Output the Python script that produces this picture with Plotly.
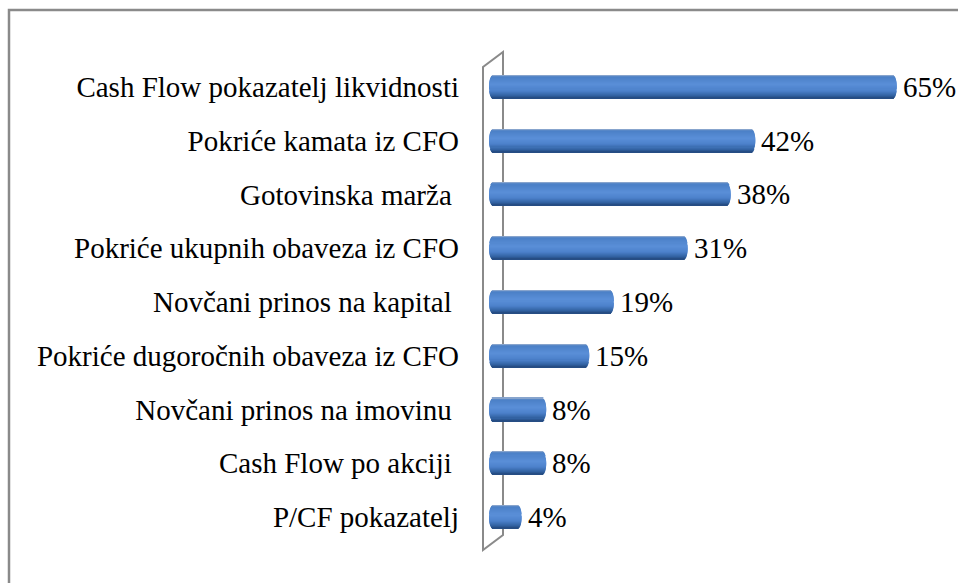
import math
import plotly.graph_objects as go

# Cash-flow indicators and the share of respondents using each one (%)
categories = [
    "Cash Flow pokazatelj likvidnosti",
    "Pokriće kamata iz CFO",
    "Gotovinska marža\u00a0",
    "Pokriće ukupnih obaveza iz CFO",
    "Novčani prinos na kapital\u00a0",
    "Pokriće dugoročnih obaveza iz CFO",
    "Novčani prinos na imovinu\u00a0",
    "Cash Flow po akciji\u00a0",
    "P/CF pokazatelj",
]
values = [65, 42, 38, 31, 19, 15, 8, 8, 4]
value_labels = [f"{v}%" for v in values]

W_PX, H_PX = 958, 583
L, R, T, B = 480, 0, 60, 39
X0_PX = 493            # pixel where 0 % sits
PX_PER_UNIT = 6.15
X_MIN = (L - X0_PX) / PX_PER_UNIT
X_MAX = (W_PX - R - X0_PX) / PX_PER_UNIT
PLOT_W = W_PX - L - R
PLOT_H = H_PX - T - B

FONT = "Liberation Serif"
FSIZE = 29

def px(x):
    return (x - L) / PLOT_W

def py(y):
    return (H_PX - B - y) / PLOT_H

def lerp_color(stops, t):
    for (t0, c0), (t1, c1) in zip(stops, stops[1:]):
        if t0 <= t <= t1:
            k = 0 if t1 == t0 else (t - t0) / (t1 - t0)
            a = [int(c0[i:i + 2], 16) for i in (1, 3, 5)]
            b = [int(c1[i:i + 2], 16) for i in (1, 3, 5)]
            r, g, bl = (round(a[j] + (b[j] - a[j]) * k) for j in range(3))
            return f"rgb({r},{g},{bl})"
    return stops[-1][1]

# vertical shading of the cylinder, top (0) to bottom (1)
shade = [
    (0.0, "#9fb3d0"),
    (0.08, "#4a7fc6"),
    (0.42, "#5a8fd8"),
    (0.68, "#4c81cb"),
    (0.9, "#30609f"),
    (1.0, "#23477c"),
]

BAR_W = 0.43
N = 22
CAP = 4.0 / PX_PER_UNIT

fig = go.Figure()
for i in range(N):
    tc = (i + 0.5) / N
    s = 2 * tc - 1
    f = math.sqrt(max(0.0, 1 - s * s))
    w = BAR_W / N
    fig.add_trace(go.Bar(
        y=categories,
        x=[v + 2 * CAP * f for v in values],
        base=-CAP * f,
        orientation="h",
        width=w * 1.08,
        offset=-BAR_W / 2 + i * w,
        marker=dict(color=lerp_color(shade, tc), line=dict(width=0)),
        hoverinfo="skip",
        showlegend=False,
    ))

for cat, v, lab in zip(categories, values, value_labels):
    fig.add_annotation(
        x=v, y=cat, text=lab, showarrow=False,
        xanchor="left", yanchor="middle", xshift=8,
        font=dict(family=FONT, size=FSIZE, color="#000000"),
    )

gray = "#8a8a8a"
shapes = [
    # outer frame
    dict(type="rect", xref="paper", yref="paper",
         x0=px(9), x1=px(990), y0=py(620), y1=py(10),
         line=dict(color=gray, width=2.5), layer="below"),
    # side wall of the 3-D plot area
    dict(type="path", xref="paper", yref="paper",
         path=(f"M {px(483)},{py(550)} L {px(483)},{py(67)} L {px(503)},{py(52)} "
               f"L {px(503)},{py(535)} Z"),
         line=dict(color=gray, width=2), fillcolor="rgba(0,0,0,0)", layer="below"),
]

fig.update_layout(
    width=W_PX, height=H_PX,
    margin=dict(l=L, r=R, t=T, b=B, pad=0),
    paper_bgcolor="white", plot_bgcolor="white",
    barmode="overlay",
    shapes=shapes,
    font=dict(family=FONT, size=FSIZE, color="#000000"),
    xaxis=dict(range=[X_MIN, X_MAX], visible=False, showgrid=False, zeroline=False),
    yaxis=dict(
        categoryorder="array", categoryarray=categories,
        autorange="reversed", showgrid=False, zeroline=False, showline=False,
        ticks="", ticklabelstandoff=20,
        tickfont=dict(family=FONT, size=FSIZE, color="#000000"),
    ),
)

fig.write_html("out.html")
